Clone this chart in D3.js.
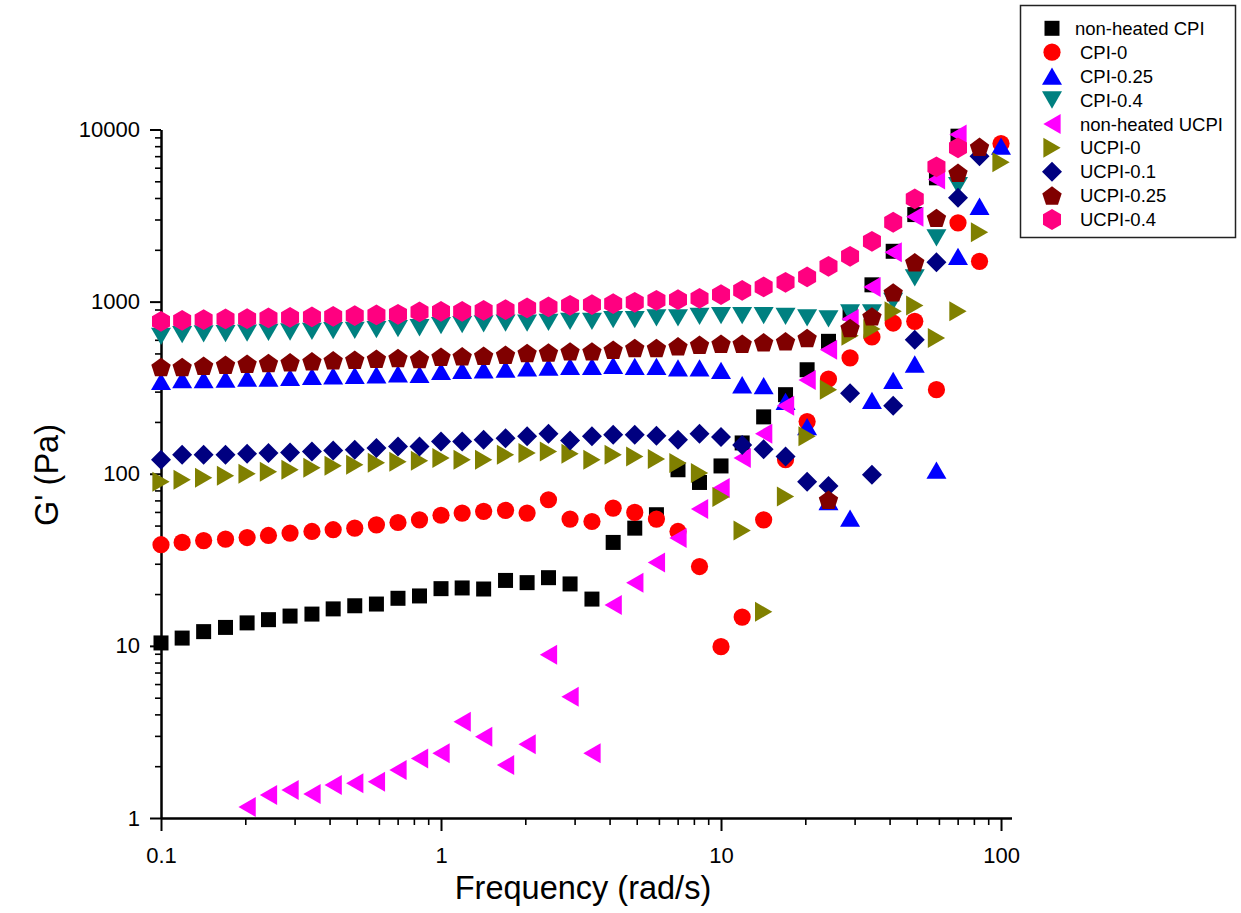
<!DOCTYPE html>
<html><head><meta charset="utf-8">
<script src="https://cdn.jsdelivr.net/npm/d3@7"></script>
<style>
body{margin:0;background:#fff}
text{font-family:"Liberation Sans",Arial,Helvetica,sans-serif;fill:#000}
</style>
</head><body>
<svg id="chart" width="1241" height="913"></svg>
<script>
// ---- data ----
const frequency = [0.1,0.119,0.142,0.17,0.203,0.242,0.289,0.346,0.412,0.492,0.588,0.702,0.838,1,1.19,1.42,1.7,2.03,2.42,2.89,3.46,4.12,4.92,5.88,7.02,8.38,10,11.9,14.2,17,20.3,24.2,28.9,34.6,41.2,49.2,58.8,70.2,83.8,100];

const nonHeatedCPI = [10.4,11.1,12.1,12.8,13.6,14.2,14.9,15.3,16.4,17.1,17.5,18.9,19.5,21.5,21.7,21.4,24.0,23.3,24.9,22.9,18.7,39.9,48.3,57.8,105.5,89,111,151,214,288,402,588,859,1252,1961,3204,5238,9145,null,null];
const cpi0 = [38.7,39.9,40.9,41.7,42.6,43.8,45.2,46.2,47.3,48.3,50.5,52.1,54,57.4,59.1,60.4,61.2,59.1,70.6,54.5,52.8,63.2,59.6,54.5,46.2,28.9,9.9,14.7,54,120.6,201,355,471,623,751,768,308,2868,1715,8288];
const cpi025 = [344,352,352,355,360,360,363,368,371,373,376,381,378,394,399,402,406,412,417,421,421,426,421,421,412,412,399,329,325,263,188,69,55.3,267,349,434,105,1834,3583,8000];
const cpi04 = [629,643,649,651,657,663,666,672,678,681,687,697,705,725,735,742,751,751,758,768,768,786,786,804,804,821,829,829,829,821,804,793,859,859,1004,1373,2346,4725,null,null];
const nonHeatedUCPI = [null,null,null,null,1.16,1.36,1.455,1.38,1.555,1.59,1.626,1.90,2.22,2.38,3.63,2.97,2.03,2.68,8.87,5.07,2.38,17.3,23.3,30.5,42.3,62.3,82.6,123.4,171,248.5,350,526,793,1217,1934,3108,5120,9350,null,null];
const ucpi0 = [89.8,92.3,94.8,97.4,100,102.7,105.5,108.4,111.3,112.8,115.9,117.4,119,123.4,120.6,120.6,129,132,134.8,130.7,120.6,129,126,121.8,115.4,101,73.2,46.8,15.8,73.8,165,308,634,694,878,948,615,878,2529,6457];
const ucpi01 = [120.6,129,129,129,130.7,132,133,134.8,136.6,137.9,141,144,144,154,154,157.6,161,165,171,156,165,168.5,168.5,166,157.6,171,163.5,147,139,126,90,85,294,98.7,248,601,1693,4008,6998,null];
const ucpi025 = [417,417,424,430,436,440,444,450,456,460,466,471,464,479,481,485,492,503,507,514,514,526,538,538,550,562,570,570,580,588,615,70.6,703,821,1132,1693,3066,5600,7932,null];
const ucpi04 = [768,778,786,793,796,804,810,815,821,829,837,844,871,878,878,890,898,919,932,952,961,974,991,1018,1027,1045,1098,1163,1217,1295,1392,1604,1834,2241,2891,3954,6071,7828,null,null];

const seriesNames = ["non-heated CPI","CPI-0","CPI-0.25","CPI-0.4","non-heated UCPI","UCPI-0","UCPI-0.1","UCPI-0.25","UCPI-0.4"];
const seriesValues = [nonHeatedCPI,cpi0,cpi025,cpi04,nonHeatedUCPI,ucpi0,ucpi01,ucpi025,ucpi04];
const seriesColors = ["#000000","#ff0000","#0000ff","#008080","#ff00ff","#808000","#000080","#800000","#ff0080"];
const seriesShapes = ["square","circle","up","down","left","right","diamond","pentagon","hexagon"];

const xTicks = [0.1,1,10,100];
const xTickLabels = ["0.1","1","10","100"];
const yTicks = [1,10,100,1000,10000];
const yTickLabels = ["1","10","100","1000","10000"];

// ---- drawing ----
const svg = d3.select("#chart");
const x = d3.scaleLog().domain([0.1,109]).range([161,1011.5]);
const y = d3.scaleLog().domain([1,10000]).range([818,129.5]);

function poly(pts){return "M"+pts.map(p=>p[0].toFixed(2)+","+p[1].toFixed(2)).join("L")+"Z";}
function shapePath(s){
  const w=20,h=17.3;
  switch(s){
    case "square": return poly([[-7.5,-7.5],[7.5,-7.5],[7.5,7.5],[-7.5,7.5]]);
    case "circle": return d3.arc()({innerRadius:0,outerRadius:8.6,startAngle:0,endAngle:2*Math.PI});
    case "up": return poly([[0,-h/2],[w/2,h/2],[-w/2,h/2]]);
    case "down": return poly([[0,h/2],[w/2,-h/2],[-w/2,-h/2]]);
    case "left": return poly([[-h/2,0],[h/2,-w/2],[h/2,w/2]]);
    case "right": return poly([[h/2,0],[-h/2,-w/2],[-h/2,w/2]]);
    case "diamond": return poly([[0,-10],[10,0],[0,10],[-10,0]]);
    case "pentagon": {const R=10.2,off=R*(1-Math.cos(Math.PI/5))/2;
      return poly(d3.range(5).map(i=>{const a=-Math.PI/2+i*2*Math.PI/5;return [R*Math.cos(a),R*Math.sin(a)+off];}));}
    case "hexagon": {const R=10.4;
      return poly(d3.range(6).map(i=>{const a=-Math.PI/2+i*Math.PI/3;return [R*Math.cos(a),R*Math.sin(a)];}));}
  }
}

// minor tick values
const minorX=[],minorY=[];
[0.1,1,10].forEach(b=>{for(let m=2;m<=9;m++)minorX.push(b*m);});
[1,10,100,1000].forEach(b=>{for(let m=2;m<=9;m++)minorY.push(b*m);});

// axes
const gx = svg.append("g").attr("transform","translate(0,818)");
gx.call(d3.axisBottom(x).tickValues(minorX).tickSize(7).tickSizeOuter(0).tickFormat(""));
gx.selectAll("line").attr("stroke-width",1.6);
gx.select(".domain").attr("stroke-width",2);
const gxM = svg.append("g").attr("transform","translate(0,818)");
gxM.call(d3.axisBottom(x).tickValues(xTicks).tickSize(13).tickSizeOuter(0).tickPadding(16).tickFormat((d,i)=>xTickLabels[i]));
gxM.selectAll("line").attr("stroke-width",2);
gxM.select(".domain").attr("stroke-width",2);
gxM.selectAll("text").attr("font-size",22).attr("font-family","Liberation Sans, Arial, sans-serif");

const gy = svg.append("g").attr("transform","translate(161,0)");
gy.call(d3.axisLeft(y).tickValues(minorY).tickSize(6).tickSizeOuter(0).tickFormat(""));
gy.selectAll("line").attr("stroke-width",1.6);
gy.select(".domain").attr("stroke-width",2);
const gyM = svg.append("g").attr("transform","translate(161,0)");
gyM.call(d3.axisLeft(y).tickValues(yTicks).tickSize(11).tickSizeOuter(0).tickPadding(10).tickFormat((d,i)=>yTickLabels[i]));
gyM.selectAll("line").attr("stroke-width",2);
gyM.select(".domain").attr("stroke-width",2);
gyM.selectAll("text").attr("font-size",22).attr("font-family","Liberation Sans, Arial, sans-serif");
svg.selectAll(".domain").attr("stroke","#000");
svg.selectAll(".tick line").attr("stroke","#000");

// axis titles
svg.append("text").attr("x",583).attr("y",899).attr("text-anchor","middle").attr("font-size",32.5).text("Frequency (rad/s)");
svg.append("text").attr("transform","translate(58,475) rotate(-90)").attr("text-anchor","middle").attr("font-size",32.5).text("G' (Pa)");

// points
seriesValues.forEach((vals,si)=>{
  const pts = frequency.map((f,i)=>({f,v:vals[i]})).filter(d=>d.v!=null);
  svg.append("g").selectAll("path").data(pts).join("path")
    .attr("d",shapePath(seriesShapes[si]))
    .attr("transform",d=>`translate(${x(d.f)},${y(d.v)})`)
    .attr("fill",seriesColors[si]);
});

// legend
const lg = svg.append("g");
lg.append("rect").attr("x",1020.5).attr("y",5.5).attr("width",215).attr("height",232)
  .attr("fill","#fff").attr("stroke","#222").attr("stroke-width",1.5);
seriesNames.forEach((n,i)=>{
  const cy = 28.3 + i*23.9;
  lg.append("path").attr("d",shapePath(seriesShapes[i])).attr("transform",`translate(1052,${cy})`).attr("fill",seriesColors[i]);
  lg.append("text").attr("x", i===0?1075:1080).attr("y",cy).attr("dy","0.36em").attr("font-size",18.5).text(n);
});
</script>
</body></html>
